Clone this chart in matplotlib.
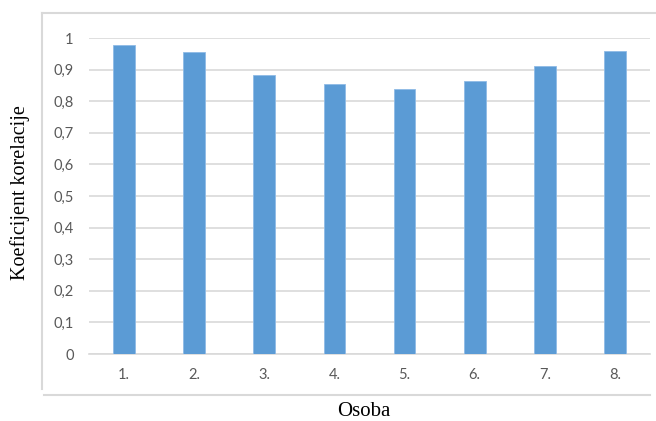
import matplotlib
matplotlib.use("Agg")
import matplotlib.pyplot as plt
from matplotlib.lines import Line2D

# data
categories = ["1.", "2.", "3.", "4.", "5.", "6.", "7.", "8."]
values = [0.978, 0.957, 0.884, 0.856, 0.838, 0.864, 0.912, 0.958]
yticks = [0, 0.1, 0.2, 0.3, 0.4, 0.5, 0.6, 0.7, 0.8, 0.9, 1.0]
ytick_labels = ["0", "0,1", "0,2", "0,3", "0,4", "0,5", "0,6", "0,7", "0,8", "0,9", "1"]

W, H = 656, 421
fig = plt.figure(figsize=(W / 100, H / 100), dpi=100)
ax = fig.add_axes([89 / W, 1 - 354 / H, (650 - 89) / W, (354 - 38) / H])

x = range(len(categories))
ax.bar(x, values, width=0.31, color="#5b9bd5", edgecolor="#8fbbe6", linewidth=0.6, zorder=3)

ax.set_xlim(-0.5, len(categories) - 0.5)
ax.set_ylim(0, 1.0)
ax.set_yticks(yticks)
ax.set_yticklabels(ytick_labels)
ax.set_xticks(list(x))
ax.set_xticklabels(categories)
ax.yaxis.grid(True, color="#d9d9d9", linewidth=1.2, zorder=0)
ax.set_axisbelow(True)
for s in ["top", "right", "left"]:
    ax.spines[s].set_visible(False)
ax.spines["bottom"].set_color("#d9d9d9")
ax.spines["bottom"].set_linewidth(1.2)
ax.tick_params(length=0, labelsize=10.5, labelcolor="#595959")
ax.tick_params(axis="x", pad=10)
ax.tick_params(axis="y", pad=11)
for lab in ax.get_xticklabels() + ax.get_yticklabels():
    lab.set_family("Lato")

# outer chart-area frame (partial, as in the reference)
fc = "#d9d9d9"
fig.add_artist(Line2D([42 / W, 42 / W], [1 - 13 / H, 1 - 389 / H], color=fc, lw=1.5))
fig.add_artist(Line2D([42 / W, 1.0], [1 - 13 / H, 1 - 13 / H], color=fc, lw=1.5))
fig.add_artist(Line2D([44 / W, 650 / W], [1 - 395 / H, 1 - 395 / H], color=fc, lw=1.5))

fig.text(20 / W, 1 - 193 / H, "Koeficijent korelacije", rotation=90, ha="center", va="center",
         family="Liberation Serif", fontsize=14.5, color="black")
fig.text(364 / W, 1 - 411 / H, "Osoba", ha="center", va="center",
         family="Liberation Serif", fontsize=15, color="black")

fig.savefig("out.png", dpi=100)
